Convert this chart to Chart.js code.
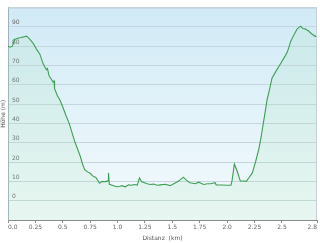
<!DOCTYPE html>
<html>
<head>
<meta charset="utf-8">
<script src="https://cdn.jsdelivr.net/npm/chart.js@4"></script>
<style>
    body { margin: 0; background: #fff; }
    canvas { display: block; }
</style>
</head>
<body>
<canvas id="profileChart" width="320" height="243"></canvas>
<script>
// elevation profile
const distKm = [
    0.00, 0.02, 0.04, 0.06, 0.08, 0.12, 0.17, 0.20, 0.23, 0.26,
    0.29, 0.32, 0.35, 0.36, 0.375, 0.40, 0.41, 0.42, 0.425, 0.45,
    0.475, 0.50, 0.53, 0.56, 0.58, 0.61, 0.64, 0.66, 0.68, 0.70,
    0.73, 0.75, 0.78, 0.80, 0.82, 0.835, 0.86, 0.88, 0.90, 0.915,
    0.917, 0.925, 0.95, 0.99, 1.02, 1.04, 1.07, 1.10, 1.13, 1.15,
    1.18, 1.20, 1.22, 1.27, 1.30, 1.33, 1.36, 1.39, 1.435, 1.48,
    1.53, 1.56, 1.60, 1.63, 1.66, 1.71, 1.74, 1.785, 1.82, 1.85,
    1.89, 1.90, 1.95, 2.00, 2.035, 2.045, 2.066, 2.09, 2.12, 2.15,
    2.175, 2.20, 2.23, 2.26, 2.29, 2.31, 2.33, 2.35, 2.365, 2.38,
    2.41, 2.45, 2.49, 2.53, 2.55, 2.58, 2.61, 2.64, 2.67, 2.69,
    2.71, 2.74, 2.776, 2.806, 2.82
];
const heightM = [
    80, 79.5, 80, 83.5, 84, 84.5, 85.2, 83.5, 81.5, 78.5,
    76, 71, 67.8, 68.5, 64.7, 62.5, 61.5, 62, 58, 54.5,
    52, 48.5, 44, 39.8, 36, 30.5, 26, 22.9, 19, 16.1,
    14.8, 14.2, 12.5, 12.2, 10.5, 9, 10, 9.8, 10, 10.5,
    14.4, 8.5, 8, 7.2, 7.5, 7.8, 7.2, 8.2, 8, 8.4,
    8.1, 11.8, 9.8, 8.8, 8.4, 8.6, 8, 8.2, 8.5, 7.8,
    9.3, 10.3, 12.2, 10.5, 9.3, 8.8, 9.6, 8.4, 8.8, 8.8,
    9.3, 8.2, 8.1, 8, 8, 10.5, 19, 15.5, 10.2, 10.2,
    10, 12, 14.4, 20.3, 27, 33, 40, 47, 52.5, 56,
    63.6, 67.5, 71.2, 75, 77.1, 82.5, 86, 89, 90.4, 89.2,
    89, 88, 86.2, 85, 86
];

const xTickValues = [0, 0.25, 0.5, 0.75, 1, 1.25, 1.5, 1.75, 2, 2.25, 2.5, 2.82];
const xTickLabels = ["0.0", "0.25", "0.5", "0.75", "1.0", "1.25", "1.5", "1.75", "2.0", "2.25", "2.5", "2.8"];

const smallFont = { family: "DejaVu Sans", size: 6 };

// blue backdrop inside the plot, plus the top/right frame
const plotBg = {
    id: "plotBg",
    beforeDraw(chart) {
        const { ctx, chartArea: a } = chart;
        const g = ctx.createLinearGradient(0, a.top, 0, a.bottom);
        g.addColorStop(0, "#d0eaf6");
        g.addColorStop(1, "#f5fbfd");
        ctx.save();
        ctx.fillStyle = g;
        ctx.fillRect(a.left, a.top, a.right - a.left, a.bottom - a.top);
        ctx.restore();
    },
    afterDraw(chart) {
        const { ctx, chartArea: a } = chart;
        ctx.save();
        ctx.strokeStyle = "#c4cfd6";
        ctx.lineWidth = 1;
        ctx.beginPath();
        ctx.moveTo(a.left, a.top + 0.5);
        ctx.lineTo(a.right - 0.5, a.top + 0.5);
        ctx.lineTo(a.right - 0.5, a.bottom);
        ctx.stroke();
        ctx.restore();
    }
};

const ctx = document.getElementById("profileChart");

new Chart(ctx, {
    type: "line",
    data: {
        datasets: [
        {
            data: distKm.map((d, i) => ({ x: d, y: heightM[i] })),
            borderColor: "#3f9e55",
            borderWidth: 1.1,
            pointRadius: 0,
            tension: 0,
            fill: "start",
            backgroundColor: "rgba(160, 225, 175, 0.16)",
        },
        ],
    },
    options: {
        responsive: false,
        animation: false,
        layout: { padding: { top: 3, right: 3, left: 0, bottom: 0 } },
        plugins: {
            legend: { display: false },
            tooltip: { enabled: false },
        },
        scales: {
            x: {
                type: "linear",
                min: 0,
                max: 2.82,
                afterBuildTicks: (axis) => {
                    axis.ticks = xTickValues.map((v) => ({ value: v }));
                },
                afterFit: (axis) => { axis.height = 23; },
                grid: { drawOnChartArea: false, tickLength: 3, color: "#8a8a8a" },
                border: { color: "#8a8a8a" },
                ticks: {
                    align: "inner",
                    maxRotation: 0,
                    autoSkip: false,
                    padding: 1,
                    color: "#666",
                    font: smallFont,
                    callback: (v, i) => xTickLabels[i],
                },
                title: {
                    display: true,
                    text: "Distanz  (km)",
                    color: "#555",
                    font: smallFont,
                    padding: { top: 0, bottom: 1 },
                },
            },
            y: {
                min: -10,
                max: 100,
                afterFit: (axis) => { axis.width = 8; },
                grid: { color: "#c6d6de", drawTicks: false },
                border: { color: "#9fb0ba" },
                ticks: {
                    stepSize: 10,
                    mirror: true,
                    padding: 4,
                    labelOffset: -4,
                    color: "#666",
                    font: smallFont,
                    callback: (v) => (v >= 0 && v <= 90 ? v : ""),
                },
                title: {
                    display: true,
                    text: "Höhe (m)",
                    color: "#555",
                    font: smallFont,
                    padding: 0,
                },
            },
        },
    },
    plugins: [plotBg],
});
</script>
</body>
</html>
